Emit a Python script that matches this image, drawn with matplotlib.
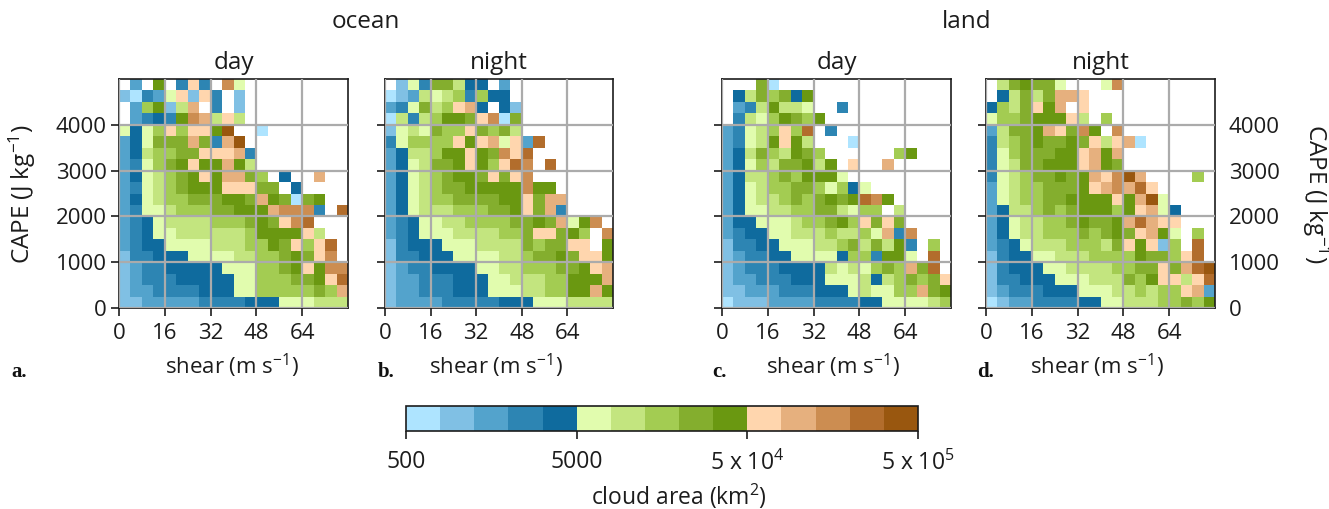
import numpy as np
import matplotlib
matplotlib.use("Agg")
import matplotlib.pyplot as plt
from matplotlib.colors import ListedColormap, BoundaryNorm

plt.rcParams['font.family'] = ['Open Sans', 'DejaVu Sans']
plt.rcParams['mathtext.fontset'] = 'custom'
plt.rcParams['mathtext.rm'] = 'Open Sans'
plt.rcParams['mathtext.default'] = 'rm'

W, H = 1329, 509

# Each row runs from the highest CAPE bin down to 0; each character is an area bin ('.' = no cloud).
ocean_day = [
    ".2.9.3a3.c5", "10325a1a3.1", ".27916b.3.1", ".23439cb6a6",
    "5457a7aa9e..0", "245888b83be", "2467788aaab3", "235789a99b96",
    "2456789a9bb87.4..b", "235678999aaa88.4", "245677888998b98089",
    "2355677788999bccc3.d", "23456666777898acd", "2345566666679999a6",
    "234455556667798a7ad.", "13344455556677898ac.", "1233444445557789a9cc",
    "12333444445 5777889ad".replace(" ", ""), "1223333444557777787b", "11222223333444555666",
]
ocean_night = [
    ".15388644.2", "01265673744", "235867ab4.41", "06367998ac08",
    "1565877a8786", "357777a9ab5a2d", "2466799a98cad", "2456889a97adc.d",
    "245678998a8ac", "245678899999c99", "245677888899a8bb", "245666777889a8b3",
    "234556677778898b59c.", "2345556666778aa897.c", "1344455566668788aa.9",
    "13344455556678898aa9", "123344445566777889ab", "1223334445566677999b",
    "122333444555667799b9", "12222333334445556666",
]
land_day = [
    "...80", ".4687849", ".2369665..3", ".36579879",
    "23567a7d.3", "23569a96...0", "246876987......79", "2457688969.a..b",
    "24667879995", "2456778875745", "245667878989dc9", "24556677886577.6",
    "244555677897a8a8", "23445566676675b3c", "13344555667868693.7",
    "12334455554773995.d", "1233344446565787b8d.", "1223334445556467878a",
    "11222333444565577b89", "01112222333344555567",
]
land_night = [
    ".689885...5c", ".46868bba", "4768a9b.a", "5778999a6.7",
    "26889ba8c9.c", "367898898a6ab0", "35788899ab9b", "35688999ab98",
    "356788989baceb....7", "256778889abcbda", "25677889999a9be5", "2466787899979ab54",
    "245667789889bdbaa", "2456677787898ab95.7", "234566677768a9a17.d",
    "13445566677779887ad.", "134445566667788a8bde", "133444555666879aa6ad",
    "12333444555667677ab2", "01223333445566677879",
]

area_codes = "0123456789abcde"
area_values = [629, 998, 1581, 2506, 3971, 6295, 9976, 15811, 25059, 39716,
               62946, 99763, 158114, 250594, 397164]
bin_edges = [500, 792, 1256, 1991, 3155, 5000, 7924, 12559, 19905, 31548, 50000,
             79245, 125594, 199054, 315479, 500000]
bin_colors = ['#AEE4FF', '#80C0E4', '#53A3CC', '#2D85B3', '#0F6B9E',
              '#E1FCAE', '#C3E57F', '#A3CC52', '#84AE2E', '#6A9811',
              '#FFD6AE', '#E6B07E', '#CC8D51', '#B26D2C', '#99570F']
shear_edges = list(range(0, 84, 4))
cape_edges = list(range(0, 5250, 250))
shear_ticks = [0, 16, 32, 48, 64]
cape_ticks = [0, 1000, 2000, 3000, 4000]
cbar_ticks = [500, 5000, 50000, 500000]
cbar_labels = ['500', '5000', r'5 x 10$^{4}$', r'5 x 10$^{5}$']

panels = [ocean_day, ocean_night, land_day, land_night]
panel_titles = ['day', 'night', 'day', 'night']
panel_tags = ['a.', 'b.', 'c.', 'd.']
boxes = [(119, 348), (385, 613), (722, 951), (986, 1215)]
tag_x = [11, 378, 712, 977]
shear_label_x = [232, 496, 833, 1097]
TOP, BOT = 79, 308
FS = 16
INK = '#1c1c1c'

cmap = ListedColormap(bin_colors)
norm = BoundaryNorm(bin_edges, cmap.N)


def decode(rows):
    grid = np.full((20, 20), np.nan)
    for i, row in enumerate(rows):
        for j, ch in enumerate(row):
            if ch != '.':
                grid[19 - i, j] = area_values[area_codes.index(ch)]
    return np.ma.masked_invalid(grid)


fig = plt.figure(figsize=(W / 100, H / 100), dpi=100)


def px_axes(x0, x1, y0, y1):
    return fig.add_axes([x0 / W, 1 - y1 / H, (x1 - x0) / W, (y1 - y0) / H])


for k, (rows, (x0, x1)) in enumerate(zip(panels, boxes)):
    ax = px_axes(x0, x1, TOP, BOT)
    mesh = ax.pcolormesh(shear_edges, cape_edges, decode(rows), cmap=cmap, norm=norm)
    ax.set_xlim(0, 80)
    ax.set_ylim(0, 5000)
    ax.set_xticks(shear_ticks)
    ax.set_yticks(cape_ticks)
    ax.grid(True, color='#ababab', lw=1.6)
    ax.set_axisbelow(False)
    ax.tick_params(length=6, width=1.2, labelsize=FS, color=INK, labelcolor=INK)
    ax.tick_params(axis='x', pad=5)
    ax.tick_params(axis='y', pad=3)
    ax.spines[:].set_linewidth(1.2)
    ax.spines[:].set_color(INK)
    ax.set_title(panel_titles[k], fontsize=17.5, pad=7, color=INK)
    fig.text(shear_label_x[k] / W, 1 - 366 / H, 'shear (m s$^{-1}$)', fontsize=FS,
             ha='center', va='center', color=INK)
    if k == 3:
        ax.tick_params(axis='y', left=True, right=False, labelright=True, labelleft=False, pad=4)
    elif k != 0:
        ax.tick_params(axis='y', labelleft=False)
    fig.text(tag_x[k] / W, 1 - 372 / H, panel_tags[k], family='Liberation Serif', weight='bold',
             fontsize=15, va='center', color='#111111')

fig.text(22 / W, 1 - 194 / H, 'CAPE (J kg$^{-1}$)', fontsize=17.5, rotation=90,
         ha='center', va='center', color=INK)
fig.text(1316 / W, 1 - 194 / H, 'CAPE (J kg$^{-1}$)', fontsize=17.5, rotation=270,
         ha='center', va='center', color=INK)
fig.text(366 / W, 1 - 22 / H, 'ocean', fontsize=17.5, ha='center', va='center', color=INK)
fig.text(967 / W, 1 - 22 / H, 'land', fontsize=17.5, ha='center', va='center', color=INK)

cax = px_axes(406, 918, 406, 431)
cb = fig.colorbar(mesh, cax=cax, orientation='horizontal', spacing='proportional',
                  ticks=cbar_ticks)
cb.ax.set_xscale('log')
cb.ax.set_xlim(500, 500000)
cb.set_ticks(cbar_ticks)
cb.set_ticklabels(cbar_labels)
cb.ax.minorticks_off()
cb.ax.tick_params(length=6, width=1.2, labelsize=16.5, pad=8, color=INK, labelcolor=INK)
cb.outline.set_linewidth(1.2)
cb.outline.set_edgecolor(INK)
fig.text(679 / W, 1 - 496 / H, 'cloud area (km$^{2}$)', fontsize=16.5, ha='center', va='center', color=INK)

fig.savefig('out.png', dpi=100)
